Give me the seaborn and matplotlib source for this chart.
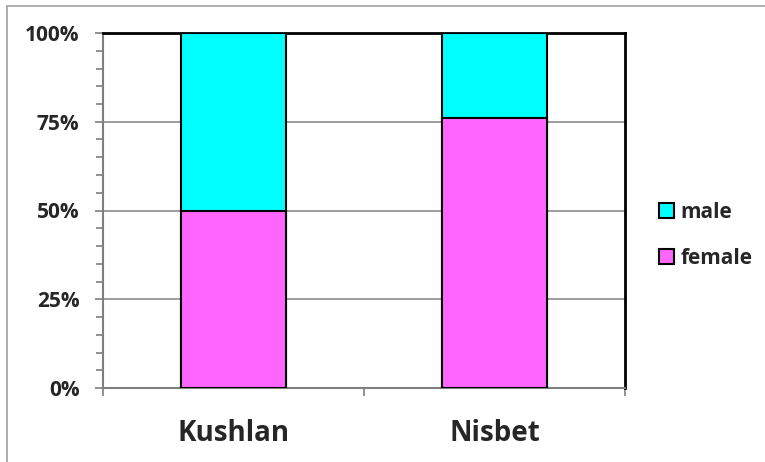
import matplotlib
matplotlib.use("Agg")
import matplotlib.pyplot as plt
from matplotlib.patches import Rectangle, Patch
from matplotlib.ticker import MultipleLocator, FuncFormatter
import seaborn as sns
import pandas as pd

# Sex ratio by study (percent of individuals)
sites = ["Kushlan", "Nisbet"]
female = [50, 76]
male = [50, 24]

MALE_COLOR = "#00FFFF"
FEMALE_COLOR = "#FF66FF"

sns.set_theme(style="white")
plt.rcParams["font.family"] = ["Open Sans", "DejaVu Sans"]
plt.rcParams["font.weight"] = "bold"

df = pd.DataFrame({"site": sites, "female": female, "male": male})
df["total"] = df["female"] + df["male"]

fig = plt.figure(figsize=(7.65, 4.62), dpi=100)
ax = fig.add_axes([103 / 765, 1 - 388 / 462, 522 / 765, 355 / 462])

# outer chart frame
fig.patches.append(Rectangle((7 / 765, -0.05), 1.1, 1 - 6 / 462 + 0.05,
                             transform=fig.transFigure, fill=False,
                             edgecolor="#A0A0A0", linewidth=1.2, zorder=0))

# stacked bars: full height in male colour, female part drawn over it
sns.barplot(data=df, x="site", y="total", color=MALE_COLOR, width=0.4,
            edgecolor="black", linewidth=1.5, saturation=1, ax=ax, zorder=3)
sns.barplot(data=df, x="site", y="female", color=FEMALE_COLOR, width=0.4,
            edgecolor="black", linewidth=1.5, saturation=1, ax=ax, zorder=4)

ax.set_xlim(-0.5, 1.5)
ax.set_ylim(0, 100)
ax.set_xlabel("")
ax.set_ylabel("")

ax.yaxis.set_major_locator(MultipleLocator(25))
ax.yaxis.set_minor_locator(MultipleLocator(5))
ax.yaxis.set_major_formatter(FuncFormatter(lambda v, p: f"{int(v)}%"))
ax.grid(axis="y", which="major", color="#8C8C8C", linewidth=1.2, zorder=0)
ax.set_axisbelow(True)

for side in ["left", "bottom"]:
    ax.spines[side].set_color("#7F7F7F")
    ax.spines[side].set_linewidth(1.5)
for side in ["top", "right"]:
    ax.spines[side].set_color("black")
    ax.spines[side].set_linewidth(2)

ax.tick_params(axis="y", which="major", left=True, length=6, width=1.2,
               color="#7F7F7F", labelsize=15, pad=11)
ax.tick_params(axis="y", which="minor", left=True, length=5, width=1.2,
               color="#7F7F7F")
for lab in ax.get_yticklabels():
    lab.set_fontweight("bold")

# category labels centred, tick marks at category boundaries
ax.set_xticks([0, 1])
ax.set_xticklabels(sites, fontsize=20, fontweight="bold")
ax.tick_params(axis="x", which="major", bottom=False, pad=16)
ax.set_xticks([-0.5, 0.5, 1.5], minor=True)
ax.tick_params(axis="x", which="minor", bottom=True, length=6, width=1.2,
               color="#7F7F7F")

handles = [Patch(facecolor=MALE_COLOR, edgecolor="black", linewidth=1.5, label="male"),
           Patch(facecolor=FEMALE_COLOR, edgecolor="black", linewidth=1.5, label="female")]
ax.legend(handles=handles, loc="center left", bbox_to_anchor=(1.03, 0.43),
          frameon=False, prop={"size": 15, "weight": "bold"},
          handlelength=0.7, handleheight=0.7, handletextpad=0.3,
          labelspacing=1.2)

fig.savefig("out.png", dpi=100)
